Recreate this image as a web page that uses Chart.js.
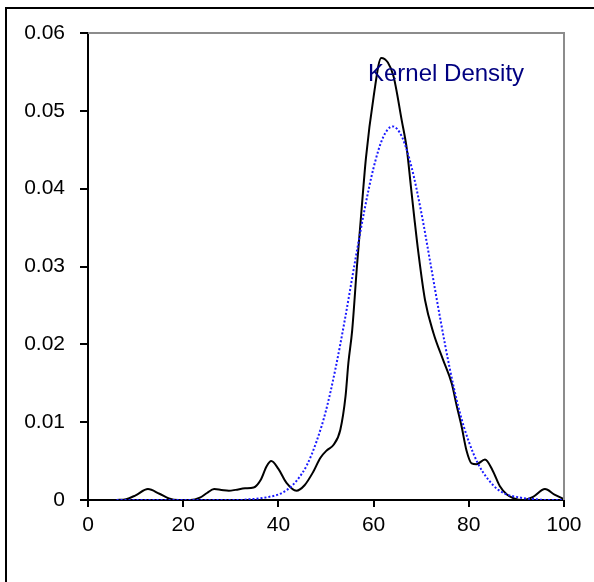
<!DOCTYPE html>
<html>
<head>
<meta charset="utf-8">
<title>Kernel Density</title>
<script src="https://cdn.jsdelivr.net/npm/chart.js@4.4.1/dist/chart.umd.min.js"></script>
<style>
  html, body { margin: 0; padding: 0; background: #fff; }
  canvas { display: block; }
</style>
</head>
<body>
<canvas id="myChart" width="594" height="582"></canvas>
<script>
// kernel estimate (black)
var kernelX = [6, 8, 10, 12.6, 15, 17, 19, 21.5, 23.5, 25, 26.5, 28, 29.6, 31, 33, 34.8, 36.3, 37.5, 38.5, 40,
  41.7, 43.8, 45.5, 47.3, 48.8, 50.2, 51.6, 53, 54.1, 54.7, 55.5, 56.5, 57.3, 58.4, 60, 61.6, 63, 64.2, 65.9, 67,
  67.8, 68.6, 69.4, 70.8, 72.6, 74.6, 76.4, 77.5, 78.5, 79.5, 80.6, 81.6, 83.4, 85, 86.5, 88, 89.5, 91.4, 93.5, 96,
  98, 100];
var kernelY = [0, 0.0001, 0.0006, 0.0014, 0.0008, 0.0002, 0, 0, 0.0003, 0.0009, 0.0014, 0.0013, 0.0012, 0.0013, 0.0015, 0.0016, 0.0026, 0.0043, 0.0050, 0.0040,
  0.0022, 0.0012, 0.0019, 0.0036, 0.0054, 0.0064, 0.0071, 0.0090, 0.0133, 0.0176, 0.0218, 0.0300, 0.0360, 0.0440, 0.0518, 0.0568, 0.0562, 0.0544, 0.0488, 0.0450,
  0.0405, 0.0360, 0.0318, 0.0257, 0.0214, 0.0180, 0.0150, 0.0120, 0.0094, 0.0064, 0.0047, 0.0046, 0.0052, 0.0038, 0.0018, 0.0007, 0.0002, 0, 0.0004, 0.0014,
  0.0007, 0.0001];

// normal reference curve (blue dotted)
var normalX = [6, 10, 14, 18, 22, 26, 30, 32, 34, 36, 38, 40, 42, 44, 46, 48, 50, 52, 54, 56,
  58, 60, 62, 64, 66, 68, 70, 72, 74, 76, 78, 80, 82, 84, 86, 88, 90, 92, 94, 96, 100];
var normalY = [0, 0, 0, 0, 0, 0, 0, 0, 0.0001, 0.0002, 0.0004, 0.0007, 0.0014, 0.0026, 0.0045, 0.0075, 0.0115, 0.0169, 0.0233, 0.0303,
  0.0370, 0.0427, 0.0466, 0.0480, 0.0466, 0.0427, 0.0370, 0.0302, 0.0233, 0.0169, 0.0115, 0.0075, 0.0046, 0.0027, 0.0014, 0.0007, 0.0004, 0.0002, 0.0001, 0, 0];

var xTicks = [0, 20, 40, 60, 80, 100];
var yTicks = [0, 0.01, 0.02, 0.03, 0.04, 0.05, 0.06];
var caption = 'Kernel Density';

function toPoints(xs, ys) {
  var pts = [];
  for (var i = 0; i < xs.length; i++) {
    pts.push({ x: xs[i], y: ys[i] });
  }
  return pts;
}

// outer frame, gray top/right edge of the plot and the caption
var framePlugin = {
  id: 'frame',
  beforeDraw: function(chart) {
    var ctx = chart.ctx;
    ctx.save();
    ctx.fillStyle = '#fff';
    ctx.fillRect(0, 0, chart.width, chart.height);
    ctx.strokeStyle = '#000';
    ctx.lineWidth = 2;
    ctx.strokeRect(6, 8, 700, 700);
    ctx.restore();
  },
  afterDatasetsDraw: function(chart) {
    var a = chart.chartArea;
    var ctx = chart.ctx;
    ctx.save();
    ctx.strokeStyle = '#8c8c8c';
    ctx.lineWidth = 2;
    ctx.beginPath();
    ctx.moveTo(a.left, a.top);
    ctx.lineTo(a.right, a.top);
    ctx.lineTo(a.right, a.bottom);
    ctx.stroke();
    ctx.fillStyle = '#000080';
    ctx.font = '24px "Liberation Sans", Arial, sans-serif';
    ctx.textBaseline = 'alphabetic';
    ctx.fillText(caption, a.left + 280, a.top + 48);
    ctx.restore();
  }
};

function getGraph() {
  var ctx = document.getElementById('myChart').getContext('2d');
  var chart = new Chart(ctx, {
    type: 'line',
    data: {
      datasets: [{
        label: 'normal',
        data: toPoints(normalX, normalY),
        borderColor: '#1a1aff',
        borderWidth: 2,
        borderDash: [2, 2],
        pointRadius: 0,
        fill: false,
        cubicInterpolationMode: 'monotone'
      }, {
        label: 'kernel',
        data: toPoints(kernelX, kernelY),
        borderColor: '#000',
        borderWidth: 2,
        pointRadius: 0,
        fill: false,
        cubicInterpolationMode: 'monotone'
      }]
    },
    options: {
      responsive: false,
      animation: false,
      events: [],
      layout: { padding: { top: 33, right: 30, bottom: 0, left: 0 } },
      plugins: { legend: { display: false }, tooltip: { enabled: false } },
      scales: {
        x: {
          type: 'linear',
          min: 0,
          max: 100,
          afterFit: function(scale) { scale.height = 82; },
          afterBuildTicks: function(scale) {
            scale.ticks = xTicks.map(function(v) { return { value: v }; });
          },
          border: { color: '#000', width: 2 },
          grid: { drawOnChartArea: false, color: '#000', lineWidth: 2, tickLength: 7 },
          ticks: {
            color: '#000',
            padding: 6,
            maxRotation: 0,
            font: { family: '"Liberation Sans", Arial, sans-serif', size: 21 }
          }
        },
        y: {
          type: 'linear',
          min: 0,
          max: 0.06,
          afterFit: function(scale) { scale.width = 88; },
          afterBuildTicks: function(scale) {
            scale.ticks = yTicks.map(function(v) { return { value: v }; });
          },
          border: { color: '#000', width: 2 },
          grid: { drawOnChartArea: false, color: '#000', lineWidth: 2, tickLength: 8 },
          ticks: {
            color: '#000',
            padding: 15,
            font: { family: '"Liberation Sans", Arial, sans-serif', size: 21 },
            callback: function(v) { return v === 0 ? '0' : v.toFixed(2); }
          }
        }
      }
    },
    plugins: [framePlugin]
  });
}

getGraph();
</script>
</body>
</html>
